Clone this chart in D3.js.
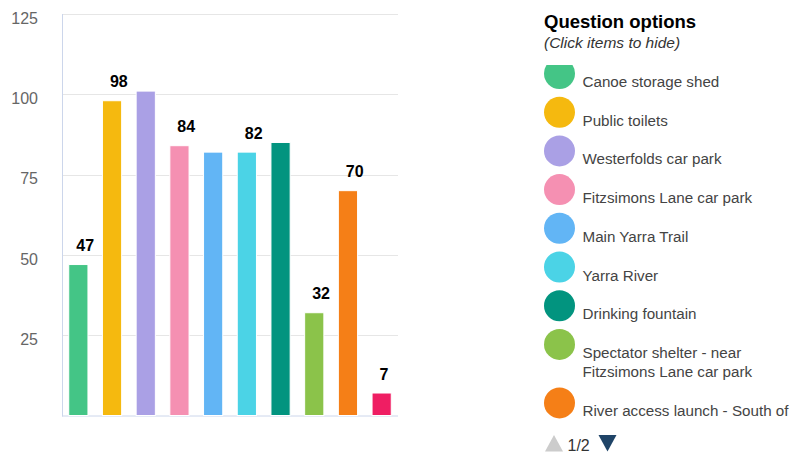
<!DOCTYPE html>
<html>
<head>
<meta charset="utf-8">
<script src="https://cdn.jsdelivr.net/npm/d3@7"></script>
<style>
  html, body { margin: 0; padding: 0; background: #fff; }
  svg { display: block; font-family: "Liberation Sans", Arial, Helvetica, sans-serif; }
</style>
</head>
<body>
<svg id="chart" width="795" height="455"></svg>
<script>
// ---- data ----
const categories = [
  "Canoe storage shed",
  "Public toilets",
  "Westerfolds car park",
  "Fitzsimons Lane car park",
  "Main Yarra Trail",
  "Yarra River",
  "Drinking fountain",
  "Spectator shelter - near Fitzsimons Lane car park",
  "River access launch - South of",
  "(page 2)"
];
const values = [47, 98, 101, 84, 82, 82, 85, 32, 70, 7];
const colors = ["#44c586", "#f5b90f", "#aaa0e5", "#f590b2", "#62b5f5", "#4bd3e6", "#02947f", "#8bc34a", "#f57f17", "#ef1e63"];
const labelShown = [true, true, false, true, false, true, false, true, true, true];
const yTicks = [25, 50, 75, 100, 125];
const legendLines = [
  ["Canoe storage shed"],
  ["Public toilets"],
  ["Westerfolds car park"],
  ["Fitzsimons Lane car park"],
  ["Main Yarra Trail"],
  ["Yarra River"],
  ["Drinking fountain"],
  ["Spectator shelter - near", "Fitzsimons Lane car park"],
  ["River access launch - South of"]
];
const legendTitle = "Question options";
const legendSubtitle = "(Click items to hide)";
const pageText = "1/2";

// ---- layout ----
const svg = d3.select("#chart");
const plot = { left: 62, right: 398, top: 14, bottom: 415.5 };

const x = d3.scaleBand().domain(d3.range(categories.length))
  .range([plot.left, plot.right]).paddingInner(0.43).paddingOuter(0.2);
const y = d3.scaleLinear().domain([0, 125]).range([plot.bottom, plot.top]);

// gridlines
svg.append("g").selectAll("line").data(yTicks).join("line")
  .attr("x1", plot.left).attr("x2", plot.right)
  .attr("y1", d => Math.round(y(d)) + 0.5).attr("y2", d => Math.round(y(d)) + 0.5)
  .attr("stroke", "#e6e6e6").attr("stroke-width", 1);

// y axis labels
const yAxis = d3.axisLeft(y).tickValues(yTicks).tickSize(0).tickPadding(0);
const yg = svg.append("g").attr("transform", `translate(38,0)`).call(yAxis);
yg.select(".domain").remove();
yg.selectAll("text")
  .attr("font-size", "16px").attr("fill", "#666")
  .attr("font-family", "\"Liberation Sans\", Arial, sans-serif")
  .attr("dy", "0").attr("y", 9.2).attr("x", 0);

// axis lines
svg.append("line").attr("x1", plot.left + 0.5).attr("x2", plot.left + 0.5)
  .attr("y1", plot.top).attr("y2", plot.bottom + 1)
  .attr("stroke", "#ccd6eb");
svg.append("line").attr("x1", plot.left).attr("x2", plot.right)
  .attr("y1", plot.bottom + 0.5).attr("y2", plot.bottom + 0.5)
  .attr("stroke", "#ccd6eb");

// bars
svg.append("g").selectAll("rect").data(values).join("rect")
  .attr("x", (d, i) => x(i))
  .attr("width", x.bandwidth())
  .attr("y", d => y(d))
  .attr("height", d => y(0) - y(d))
  .attr("fill", (d, i) => colors[i])
  .attr("stroke", "#fff").attr("stroke-width", 1);

// data labels
svg.append("g").selectAll("text").data(values.map((v, i) => ({ v, i })).filter(d => labelShown[d.i]))
  .join("text")
  .attr("x", d => x(d.i) + 7.5)
  .attr("y", d => y(d.v) - 13.5)
  .attr("font-size", "16px").attr("font-weight", "bold").attr("fill", "#000")
  .text(d => d.v);

// legend
const lg = svg.append("g");
lg.append("text").attr("x", 544).attr("y", 28)
  .attr("font-size", "18.5px").attr("font-weight", "bold").attr("fill", "#000")
  .text(legendTitle);
lg.append("text").attr("x", 544).attr("y", 48)
  .attr("font-size", "15.5px").attr("font-style", "italic").attr("fill", "#333")
  .text(legendSubtitle);

svg.append("defs").append("clipPath").attr("id", "legclip")
  .append("rect").attr("x", 530).attr("y", 65).attr("width", 265).attr("height", 358);

const items = lg.append("g").attr("clip-path", "url(#legclip)");
let cy = 73.5;
legendLines.forEach((lines, i) => {
  const g = items.append("g");
  g.append("circle").attr("cx", 559.5).attr("cy", cy).attr("r", 15.5).attr("fill", colors[i]);
  lines.forEach((t, j) => {
    g.append("text").attr("x", 582.5).attr("y", cy + 13.5 + j * 19.4)
      .attr("font-size", "15.2px").attr("fill", "#444").text(t);
  });
  cy += 38.7 + (lines.length - 1) * 19.8;
});

// navigation
lg.append("path").attr("d", "M545,451.5 L554,435 L563,451.5 Z").attr("fill", "#cccccc");
lg.append("text").attr("x", 567.5).attr("y", 450.5)
  .attr("font-size", "16px").attr("fill", "#333").text(pageText);
lg.append("path").attr("d", "M598.5,435 L616.5,435 L607.5,451.5 Z").attr("fill", "#1f4467");
</script>
</body>
</html>
